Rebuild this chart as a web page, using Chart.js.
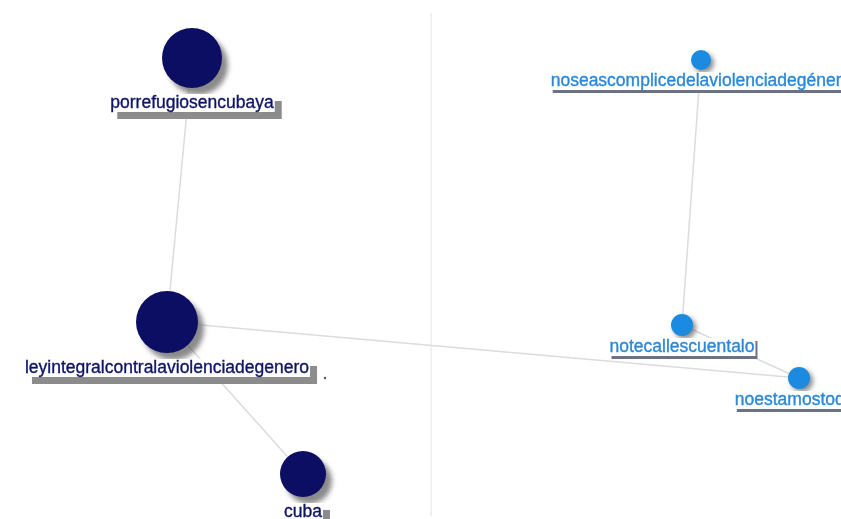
<!DOCTYPE html>
<html>
<head>
<meta charset="utf-8">
<script src="https://cdn.jsdelivr.net/npm/chart.js@4/dist/chart.umd.min.js"></script>
<style>
html,body{margin:0;padding:0;background:#fff;}
#wrap{width:841px;height:519px;position:relative;}
</style>
</head>
<body>
<div id="wrap"><canvas id="c"></canvas></div>
<script>
// ---- data ----
const nodeNames = ["porrefugiosencubaya","leyintegralcontralaviolenciadegenero","cuba","noseascomplicedelaviolenciadegénero","notecallescuentalo","noestamostodas"];
const nodeX = [192, 167, 303, 701, 682, 799];
const nodeY = [58, 322, 474, 60, 325, 378];
const nodeSize = [30, 31, 23, 10, 11, 11];
const nodeGroup = [0, 0, 0, 1, 1, 1];
const edgeFrom = [0, 1, 1, 3, 4];
const edgeTo   = [1, 2, 5, 4, 5];
const strayX = [325];
const strayY = [378];
const dividerX = 431;

const groupFill = ['#0b0e62', '#1b8be2'];
const groupText = ['#101466', '#2a88d8'];

const edgeDatasets = edgeFrom.map((f, i) => ({
  type: 'line',
  data: [{x: nodeX[f], y: nodeY[f]}, {x: nodeX[edgeTo[i]], y: nodeY[edgeTo[i]]}],
  borderColor: '#dcdcdc',
  borderWidth: 1.5,
  pointRadius: 0,
  fill: false,
  order: 3
}));

const nodeDatasets = [0, 1].map(g => ({
  type: 'bubble',
  label: 'group' + g,
  data: nodeNames.map((n, i) => ({x: nodeX[i], y: nodeY[i], r: nodeSize[i], g: nodeGroup[i], name: n}))
        .filter(d => d.g === g),
  backgroundColor: groupFill[g],
  borderColor: groupFill[g],
  borderWidth: 0,
  clip: false,
  order: 1,
  shadow: true
}));

const strayDataset = {
  type: 'scatter',
  data: strayX.map((x, i) => ({x, y: strayY[i]})),
  backgroundColor: '#555',
  pointRadius: 1.2,
  borderWidth: 0,
  order: 2
};

const dividerPlugin = {
  id: 'divider',
  beforeDatasetsDraw(chart) {
    const {ctx, scales: {x, y}} = chart;
    ctx.save();
    ctx.strokeStyle = '#ececec';
    ctx.lineWidth = 1.5;
    ctx.beginPath();
    ctx.moveTo(x.getPixelForValue(dividerX), y.getPixelForValue(13));
    ctx.lineTo(x.getPixelForValue(dividerX), y.getPixelForValue(516));
    ctx.stroke();
    ctx.restore();
  }
};

const shadowPlugin = {
  id: 'nodeShadow',
  beforeDatasetDraw(chart, args) {
    const ds = chart.data.datasets[args.index];
    if (!ds.shadow) return;
    const ctx = chart.ctx;
    ctx.save();
    ctx.shadowColor = 'rgba(90,90,90,0.7)';
    ctx.shadowBlur = 5;
    ctx.shadowOffsetX = ds.label === 'group0' ? 6 : 3;
    ctx.shadowOffsetY = ds.label === 'group0' ? 7 : 3;
  },
  afterDatasetDraw(chart, args) {
    const ds = chart.data.datasets[args.index];
    if (!ds.shadow) return;
    chart.ctx.restore();
  }
};

const labelPlugin = {
  id: 'nodeLabels',
  afterDatasetsDraw(chart) {
    const {ctx, scales: {x, y}} = chart;
    ctx.save();
    ctx.font = '17.5px "Liberation Sans", Arial, sans-serif';
    ctx.textAlign = 'center';
    ctx.textBaseline = 'middle';
    nodeNames.forEach((name, i) => {
      const g = nodeGroup[i];
      const px = x.getPixelForValue(nodeX[i]);
      const py = y.getPixelForValue(nodeY[i]) + nodeSize[i] + (g === 0 ? 15 : 11);
      const w = ctx.measureText(name).width;
      const h = 18;
      const off = g === 0 ? 7 : 2;
      ctx.fillStyle = g === 0 ? '#8c8c8c' : '#6d7185';
      ctx.fillRect(px - w / 2 + off, py - h / 2 + off + (g === 0 ? 0 : 1), w + 1, h);
      ctx.fillStyle = '#ffffff';
      ctx.fillRect(px - w / 2 - 1, py - h / 2, w + 2, h);
      ctx.fillStyle = groupText[g];
      ctx.strokeStyle = groupText[g];
      ctx.lineWidth = 0.35;
      ctx.fillText(name, px, py);
      ctx.strokeText(name, px, py);
    });
    ctx.restore();
  }
};

new Chart(document.getElementById('c'), {
  data: { datasets: [...edgeDatasets, strayDataset, ...nodeDatasets] },
  options: {
    responsive: true,
    maintainAspectRatio: false,
    animation: false,
    layout: { padding: 0, autoPadding: false },
    plugins: { legend: { display: false }, tooltip: { enabled: false } },
    scales: {
      x: { type: 'linear', min: 0, max: 841, display: false },
      y: { type: 'linear', min: 0, max: 519, reverse: true, display: false }
    }
  },
  plugins: [dividerPlugin, shadowPlugin, labelPlugin]
});
</script>
</body>
</html>
